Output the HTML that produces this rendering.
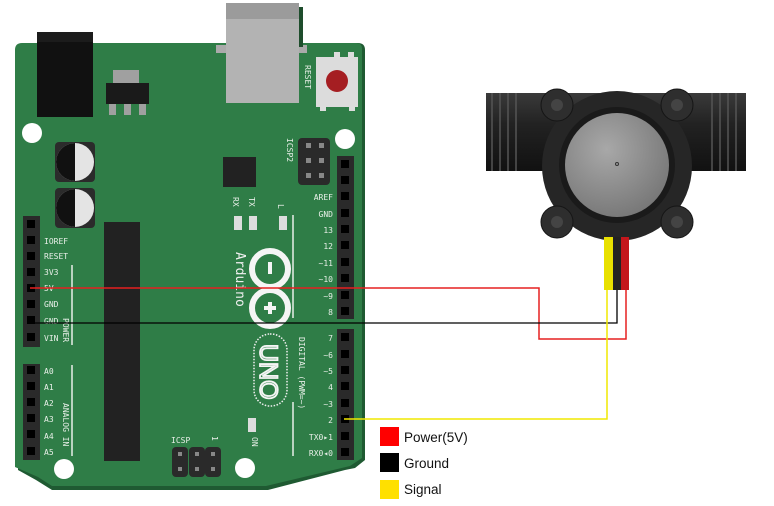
<!DOCTYPE html>
<html><head><meta charset="utf-8"><style>
html,body{margin:0;padding:0;background:#fff;width:774px;height:506px;overflow:hidden}
svg{display:block}
.pl{font-family:"DejaVu Sans Mono","Liberation Mono",monospace;font-size:8px;fill:#e8efe8}
.lg{font-family:"Liberation Sans",sans-serif;font-size:13.5px;fill:#111}
</style></head><body>
<svg width="774" height="506" viewBox="0 0 774 506" xmlns="http://www.w3.org/2000/svg">
<defs>
<radialGradient id="disc" cx="0.4" cy="0.35" r="0.8"><stop offset="0" stop-color="#a8a8a8"/><stop offset="1" stop-color="#6f6f6f"/></radialGradient>
<linearGradient id="pipe" x1="0" y1="0" x2="0" y2="1"><stop offset="0" stop-color="#3a3a3a"/><stop offset="0.4" stop-color="#222"/><stop offset="1" stop-color="#111"/></linearGradient>
</defs>
<!-- board -->
<path d="M20 43 H358 Q365 43 365 50 V460 L355 468 L345 470 L268 490 H52 L36 480 L18 470 V50 Q18 43 25 43Z" fill="#1f5a32"/>
<path d="M22 43 H356 Q362 43 362 49 V458 L350 466 L266 486 H52 L38 477 L15 467 V50 Q15 43 22 43Z" fill="#2f7d47"/>
<!-- USB -->
<rect x="226" y="3" width="73" height="100" fill="#b3b3b3"/>
<rect x="226" y="3" width="73" height="16" fill="#9b9b9b"/>
<rect x="216" y="45" width="10" height="8" fill="#aaa"/><rect x="299" y="45" width="8" height="8" fill="#aaa"/>
<rect x="299" y="7" width="4" height="40" fill="#1e4d2c"/>
<!-- power jack -->
<rect x="37" y="32" width="56" height="85" fill="#111"/>
<rect x="37" y="32" width="56" height="10" fill="#1c1c1c"/>
<!-- regulator -->
<rect x="113" y="70" width="26" height="13" fill="#a0a0a0"/>
<rect x="106" y="83" width="43" height="21" fill="#1a1a1a"/>
<rect x="109" y="104" width="7" height="11" fill="#a0a0a0"/><rect x="124" y="104" width="7" height="11" fill="#a0a0a0"/><rect x="139" y="104" width="7" height="11" fill="#a0a0a0"/>
<!-- reset -->
<rect x="316" y="57" width="42" height="50" fill="#dcdcdc"/>
<rect x="334" y="52" width="6" height="6" fill="#ddd"/><rect x="348" y="52" width="6" height="6" fill="#ddd"/><rect x="320" y="106" width="6" height="5" fill="#ddd"/><rect x="349" y="106" width="6" height="5" fill="#ddd"/>
<circle cx="337" cy="81" r="11" fill="#a51e22"/>
<text class="pl" transform="translate(305,65) rotate(90)" font-size="9">RESET</text>
<!-- holes -->
<circle cx="32" cy="133" r="10" fill="#fff"/><circle cx="345" cy="139" r="10" fill="#fff"/>
<circle cx="64" cy="469" r="10" fill="#fff"/><circle cx="245" cy="468" r="10" fill="#fff"/>
<!-- caps -->
<rect x="55" y="142" width="40" height="40" rx="4" fill="#2b2b2b"/>
<circle cx="75" cy="162" r="19" fill="#e4e4e4"/><path d="M75 143 A19 19 0 0 0 75 181Z" fill="#111"/>
<rect x="55" y="188" width="40" height="40" rx="4" fill="#2b2b2b"/>
<circle cx="75" cy="208" r="19" fill="#e4e4e4"/><path d="M75 189 A19 19 0 0 0 75 227Z" fill="#111"/>
<!-- chips -->
<rect x="223" y="157" width="33" height="30" fill="#222"/>
<rect x="104" y="222" width="36" height="239" fill="#222"/>
<!-- ICSP2 -->
<rect x="298" y="138" width="32" height="47" rx="4" fill="#2a2a2a"/>
<g fill="#888"><rect x="306" y="143" width="5" height="5"/><rect x="319" y="143" width="5" height="5"/><rect x="306" y="158" width="5" height="5"/><rect x="319" y="158" width="5" height="5"/><rect x="306" y="173" width="5" height="5"/><rect x="319" y="173" width="5" height="5"/></g>
<text class="pl" transform="translate(287,138) rotate(90)" font-size="9">ICSP2</text>
<!-- LEDs -->
<rect x="234" y="216" width="8" height="14" fill="#ddd"/><rect x="249" y="216" width="8" height="14" fill="#ddd"/><rect x="279" y="216" width="8" height="14" fill="#ddd"/>
<text class="pl" transform="translate(233,197) rotate(90)" font-size="9">RX</text>
<text class="pl" transform="translate(249,197) rotate(90)" font-size="9">TX</text>
<text class="pl" transform="translate(278,204) rotate(90)" font-size="9">L</text>
<rect x="248" y="418" width="8" height="14" fill="#ddd"/>
<text class="pl" transform="translate(252,437) rotate(90)" font-size="9">ON</text>
<line x1="293" y1="215" x2="293" y2="318" stroke="#e8efe8" stroke-width="1.5"/>
<line x1="293" y1="402" x2="293" y2="456" stroke="#e8efe8" stroke-width="1.5"/>
<!-- logo -->
<text transform="translate(236,252) rotate(90)" font-family="DejaVu Sans Mono,monospace" font-size="13" fill="#f0f0f0">Arduino</text>
<circle cx="270" cy="269" r="18" fill="none" stroke="#f5f5f5" stroke-width="6"/>
<circle cx="270" cy="308" r="18" fill="none" stroke="#f5f5f5" stroke-width="6"/>
<rect x="268" y="262" width="4" height="12" fill="#f5f5f5"/>
<rect x="264" y="306" width="12" height="4" fill="#f5f5f5"/><rect x="268" y="302" width="4" height="12" fill="#f5f5f5"/>
<rect x="254" y="334" width="33" height="72" rx="16" fill="none" stroke="#f0f0f0" stroke-width="1.5" stroke-dasharray="1.5 1.5"/>
<text transform="translate(260,344) rotate(90)" font-family="Liberation Sans,sans-serif" font-size="25" fill="none" stroke="#f5f5f5" stroke-width="1.8">UNO</text>
<text class="pl" transform="translate(299,337) rotate(90)">DIGITAL (PWM=~)</text>
<!-- left header -->
<rect x="23" y="216" width="17" height="131" fill="#2a2a2a"/>
<rect x="23" y="364" width="17" height="96" fill="#2a2a2a"/>
<rect x="337" y="156" width="17" height="163" fill="#2a2a2a"/>
<rect x="337" y="329" width="17" height="131" fill="#2a2a2a"/>
<g fill="#000">
<rect x="27" y="220" width="8" height="8"/><rect x="27" y="236" width="8" height="8"/><rect x="27" y="252" width="8" height="8"/><rect x="27" y="268" width="8" height="8"/><rect x="27" y="284" width="8" height="8"/><rect x="27" y="300" width="8" height="8"/><rect x="27" y="316" width="8" height="8"/><rect x="27" y="333" width="8" height="8"/>
<rect x="27" y="366" width="8" height="8"/><rect x="27" y="382" width="8" height="8"/><rect x="27" y="398" width="8" height="8"/><rect x="27" y="414" width="8" height="8"/><rect x="27" y="430" width="8" height="8"/><rect x="27" y="447" width="8" height="8"/>
<rect x="341" y="160" width="8" height="8"/><rect x="341" y="176" width="8" height="8"/><rect x="341" y="192" width="8" height="8"/><rect x="341" y="209" width="8" height="8"/><rect x="341" y="225" width="8" height="8"/><rect x="341" y="241" width="8" height="8"/><rect x="341" y="258" width="8" height="8"/><rect x="341" y="274" width="8" height="8"/><rect x="341" y="291" width="8" height="8"/><rect x="341" y="307" width="8" height="8"/>
<rect x="341" y="333" width="8" height="8"/><rect x="341" y="350" width="8" height="8"/><rect x="341" y="366" width="8" height="8"/><rect x="341" y="382" width="8" height="8"/><rect x="341" y="399" width="8" height="8"/><rect x="341" y="415" width="8" height="8"/><rect x="341" y="432" width="8" height="8"/><rect x="341" y="448" width="8" height="8"/>
</g>
<g class="pl">
<text x="44" y="244">IOREF</text><text x="44" y="259">RESET</text><text x="44" y="275">3V3</text><text x="44" y="291">5V</text><text x="44" y="307">GND</text><text x="44" y="324">GND</text><text x="44" y="341">VIN</text>
<text x="44" y="374">A0</text><text x="44" y="390">A1</text><text x="44" y="406">A2</text><text x="44" y="422">A3</text><text x="44" y="439">A4</text><text x="44" y="455">A5</text>
<g text-anchor="end"><text x="333" y="200">AREF</text><text x="333" y="217">GND</text><text x="333" y="233">13</text><text x="333" y="249">12</text><text x="333" y="266">~11</text><text x="333" y="282">~10</text><text x="333" y="299">~9</text><text x="333" y="315">8</text>
<text x="333" y="341">7</text><text x="333" y="358">~6</text><text x="333" y="374">~5</text><text x="333" y="390">4</text><text x="333" y="407">~3</text><text x="333" y="423">2</text><text x="333" y="440">TX0▸1</text><text x="333" y="456">RX0◂0</text></g>
</g>
<line x1="72" y1="265" x2="72" y2="345" stroke="#e8efe8" stroke-width="1.5"/>
<line x1="72" y1="365" x2="72" y2="456" stroke="#e8efe8" stroke-width="1.5"/>
<text class="pl" transform="translate(63,318) rotate(90)">POWER</text>
<text class="pl" transform="translate(63,403) rotate(90)">ANALOG IN</text>
<!-- ICSP -->
<rect x="172" y="447" width="16" height="30" rx="4" fill="#2a2a2a"/><rect x="189" y="447" width="16" height="30" rx="4" fill="#2a2a2a"/><rect x="205" y="447" width="16" height="30" rx="4" fill="#2a2a2a"/>
<g fill="#888"><rect x="178" y="452" width="4" height="4"/><rect x="195" y="452" width="4" height="4"/><rect x="211" y="452" width="4" height="4"/><rect x="178" y="467" width="4" height="4"/><rect x="195" y="467" width="4" height="4"/><rect x="211" y="467" width="4" height="4"/></g>
<text class="pl" x="171" y="443" font-size="10">ICSP</text>
<text class="pl" transform="translate(212,436) rotate(90)" font-size="9">1</text>
<!-- sensor -->
<rect x="486" y="93" width="260" height="78" fill="url(#pipe)"/>
<g stroke="#555" stroke-width="1.5">
<line x1="492" y1="93" x2="492" y2="171"/><line x1="500" y1="93" x2="500" y2="171"/><line x1="508" y1="93" x2="508" y2="171"/><line x1="516" y1="93" x2="516" y2="171"/>
<line x1="712" y1="93" x2="712" y2="171"/><line x1="720" y1="93" x2="720" y2="171"/><line x1="728" y1="93" x2="728" y2="171"/><line x1="736" y1="93" x2="736" y2="171"/>
</g>
<circle cx="617" cy="166" r="75" fill="#262626"/>
<circle cx="557" cy="105" r="16" fill="#2e2e2e" stroke="#151515"/><circle cx="677" cy="105" r="16" fill="#2e2e2e" stroke="#151515"/>
<circle cx="557" cy="222" r="16" fill="#2e2e2e" stroke="#151515"/><circle cx="677" cy="222" r="16" fill="#2e2e2e" stroke="#151515"/>
<circle cx="557" cy="105" r="6" fill="#444"/><circle cx="677" cy="105" r="6" fill="#444"/><circle cx="557" cy="222" r="6" fill="#444"/><circle cx="677" cy="222" r="6" fill="#444"/>
<circle cx="617" cy="165" r="58" fill="#1a1a1a"/>
<circle cx="617" cy="165" r="52" fill="url(#disc)"/>
<circle cx="617" cy="164" r="1.5" fill="none" stroke="#333"/>
<rect x="604" y="237" width="9" height="53" fill="#e8e000"/><rect x="613" y="237" width="8" height="53" fill="#222"/><rect x="621" y="237" width="8" height="53" fill="#c4161c"/>
<!-- wires -->
<polyline points="30,288 539,288 539,339 626,339 626,290" fill="none" stroke="#e52020" stroke-width="1.5"/>
<polyline points="30,323 617,323 617,290" fill="none" stroke="#000" stroke-width="1.3"/>
<polyline points="344,419 607,419 607,290" fill="none" stroke="#f0e800" stroke-width="1.5"/>
<!-- legend -->
<rect x="380" y="427" width="19" height="19" fill="#f00"/>
<rect x="380" y="453" width="19" height="19" fill="#000"/>
<rect x="380" y="480" width="19" height="19" fill="#ffe000"/>
<text class="lg" x="404" y="442">Power(5V)</text>
<text class="lg" x="404" y="468">Ground</text>
<text class="lg" x="404" y="494">Signal</text>
</svg>
</body></html>
